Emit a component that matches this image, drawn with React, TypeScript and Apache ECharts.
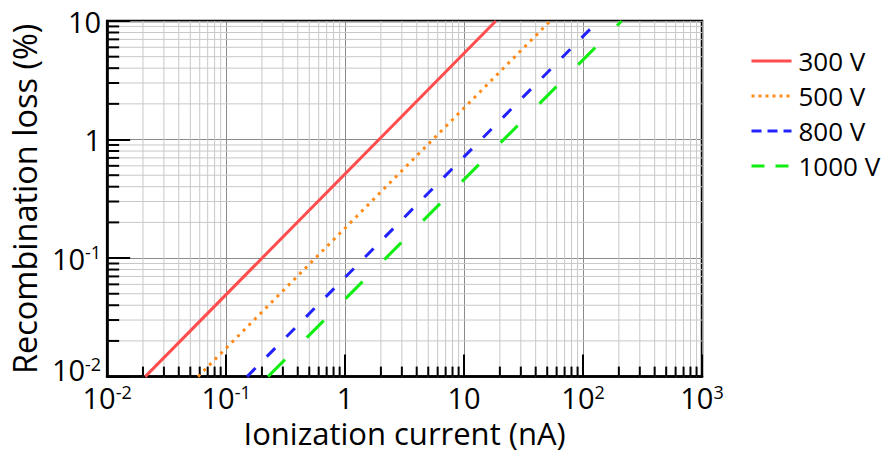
import React, { useEffect, useRef } from "react";
import * as echarts from "echarts";

// ---- data ----
const seriesNames = ["300 V", "500 V", "800 V", "1000 V"];
const current300 = [0.0209, 18.5];
const loss300 = [0.01, 10];
const current500 = [0.058, 53];
const loss500 = [0.01, 10];
const current800 = [0.15, 134];
const loss800 = [0.01, 10];
const current1000 = [0.225, 211];
const loss1000 = [0.01, 10];

const X_MIN = 0.01;
const X_MAX = 1000;
const Y_MIN = 0.01;
const Y_MAX = 10;
const xDecades = [0.01, 0.1, 1, 10, 100];
const yDecades = [0.01, 0.1, 1];
const minorMultipliers = [2, 3, 4, 5, 6, 7, 8, 9];

const xMinor: number[] = [];
xDecades.forEach((d) => minorMultipliers.forEach((m) => xMinor.push(+(d * m).toPrecision(3))));
const yMinor: number[] = [];
yDecades.forEach((d) => minorMultipliers.forEach((m) => yMinor.push(+(d * m).toPrecision(3))));

const FONT = "Open Sans";

function pairs(xs: number[], ys: number[]) {
  return xs.map((x, i) => [x, ys[i]]);
}

function tickLabel(v: number, isY: boolean) {
  const e = Math.round(Math.log10(v));
  if (e === 0) return "{b|1}";
  if (e === 1) return "{b|10}";
  const low = isY && Math.abs(v - Y_MIN) < 1e-9;
  if (low) return "{b|10}{s|" + e + "}\n{gap| }";
  return "{b|10}{s|" + e + "}";
}

const richLabels = {
  b: { fontSize: 29, fontFamily: FONT, color: "#000", lineHeight: 30 },
  s: { fontSize: 18, fontFamily: FONT, color: "#000", verticalAlign: "top", lineHeight: 18 },
  gap: { fontSize: 2, lineHeight: 14 },
};

export default function App() {
  const ref = useRef<HTMLDivElement>(null);
  useEffect(() => {
    if (!ref.current) return;
    const chart = echarts.init(ref.current, undefined, { renderer: "svg" });
    const option: any = {
      animation: false,
      backgroundColor: "#fff",
      grid: {
        left: 107,
        right: 179,
        top: 21,
        bottom: 73,
        show: true,
        borderColor: "#000",
        borderWidth: 2.5,
        backgroundColor: "transparent",
      },
      legend: {
        orient: "vertical",
        left: 750,
        top: 46,
        padding: 0,
        itemWidth: 40,
        itemHeight: 14,
        itemGap: 5,
        itemStyle: { opacity: 0 },
        textStyle: { fontSize: 26, fontFamily: FONT, color: "#000", lineHeight: 30, padding: [0, 0, 0, 2] },
        data: [
          { name: seriesNames[0], lineStyle: { type: "solid", width: 3 } },
          { name: seriesNames[1], lineStyle: { type: [3, 4], width: 3 } },
          { name: seriesNames[2], lineStyle: { type: [10, 6], width: 3 } },
          { name: seriesNames[3], lineStyle: { type: [13, 11], width: 3 } },
        ],
      },
      xAxis: {
        type: "log",
        logBase: 10,
        min: X_MIN,
        max: X_MAX,
        name: "Ionization current (nA)",
        nameLocation: "middle",
        nameGap: 40,
        nameTextStyle: { fontSize: 31, fontFamily: FONT, color: "#000" },
        axisLine: { show: true, lineStyle: { color: "#000", width: 2.5 } },
        axisTick: { show: true, inside: true, length: 22, lineStyle: { color: "#000", width: 2 } },
        axisLabel: {
          margin: 6,
          fontSize: 29,
          fontFamily: FONT,
          formatter: (v: number) => tickLabel(v, false),
          rich: richLabels,
        },
        splitLine: { show: true, lineStyle: { color: "#8a8a8a", width: 1 } },
      },
      yAxis: {
        type: "log",
        logBase: 10,
        min: Y_MIN,
        max: Y_MAX,
        name: "Recombination loss (%)",
        nameLocation: "middle",
        nameGap: 61,
        nameTextStyle: { fontSize: 32.5, fontFamily: FONT, color: "#000" },
        axisLine: { show: true, lineStyle: { color: "#000", width: 2.5 } },
        axisTick: { show: true, inside: true, length: 23, lineStyle: { color: "#000", width: 2 } },
        axisLabel: {
          margin: 6,
          fontSize: 29,
          fontFamily: FONT,
          formatter: (v: number) => tickLabel(v, true),
          rich: richLabels,
        },
        splitLine: { show: true, lineStyle: { color: "#8a8a8a", width: 1 } },
      },
      series: [
        {
          type: "custom",
          name: "xminor",
          silent: true,
          z: 1,
          clip: false,
          data: xMinor.map((v) => [v, Y_MIN]),
          renderItem: (_p: any, api: any) => {
            const v = api.value(0);
            const top = api.coord([v, Y_MAX]);
            const bot = api.coord([v, Y_MIN]);
            return {
              type: "group",
              children: [
                { type: "line", shape: { x1: top[0], y1: top[1], x2: bot[0], y2: bot[1] }, style: { stroke: "#c8c8c8", lineWidth: 1 } },
                { type: "line", shape: { x1: bot[0], y1: bot[1], x2: bot[0], y2: bot[1] - 10 }, style: { stroke: "#000", lineWidth: 2 } },
              ],
            };
          },
        },
        {
          type: "custom",
          name: "yminor",
          silent: true,
          z: 1,
          clip: false,
          data: yMinor.map((v) => [X_MIN, v]),
          renderItem: (_p: any, api: any) => {
            const v = api.value(1);
            const l = api.coord([X_MIN, v]);
            const r = api.coord([X_MAX, v]);
            return {
              type: "group",
              children: [
                { type: "line", shape: { x1: l[0], y1: l[1], x2: r[0], y2: r[1] }, style: { stroke: "#c8c8c8", lineWidth: 1 } },
                { type: "line", shape: { x1: l[0], y1: l[1], x2: l[0] + 12, y2: l[1] }, style: { stroke: "#000", lineWidth: 2 } },
              ],
            };
          },
        },
        {
          type: "line",
          name: seriesNames[0],
          data: pairs(current300, loss300),
          showSymbol: false,
          symbol: "none",
          z: 3,
          lineStyle: { color: "#ff4d4d", width: 3, type: "solid" },
          itemStyle: { color: "#ff4d4d" },
        },
        {
          type: "line",
          name: seriesNames[1],
          data: pairs(current500, loss500),
          showSymbol: false,
          symbol: "none",
          z: 3,
          lineStyle: { color: "#ff8c1a", width: 3, type: [3, 5] },
          itemStyle: { color: "#ff8c1a" },
        },
        {
          type: "line",
          name: seriesNames[2],
          data: pairs(current800, loss800),
          showSymbol: false,
          symbol: "none",
          z: 3,
          lineStyle: { color: "#2222ff", width: 3, type: [12, 16] },
          itemStyle: { color: "#2222ff" },
        },
        {
          type: "line",
          name: seriesNames[3],
          data: pairs(current1000, loss1000),
          showSymbol: false,
          symbol: "none",
          z: 3,
          lineStyle: { color: "#11ee11", width: 3, type: [24, 31] },
          itemStyle: { color: "#11ee11" },
        },
      ],
    };
    chart.setOption(option);
    return () => chart.dispose();
  }, []);
  return <div ref={ref} style={{ width: 881, height: 453, position: "absolute", left: 0, top: 0 }} />;
}
